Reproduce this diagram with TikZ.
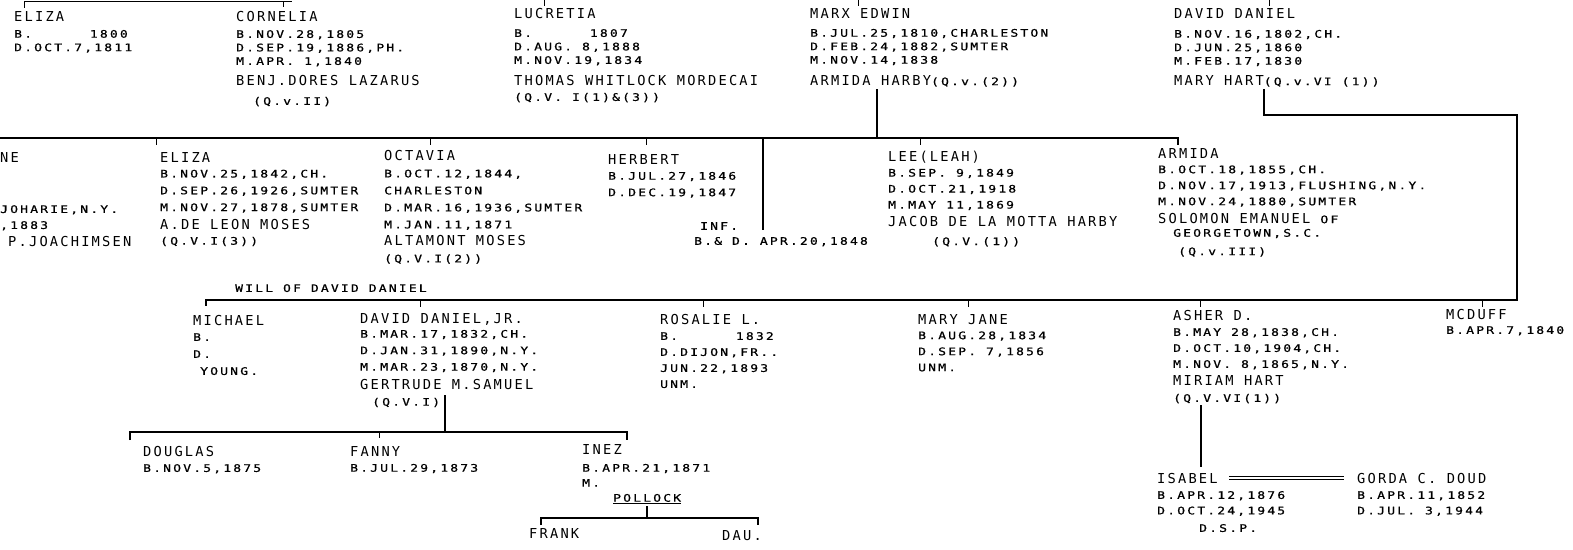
\documentclass[tikz,border=0pt]{standalone}
\usepackage{fontspec}
\newfontfamily\datafont[FakeStretch=1.25,LetterSpace=21,FakeBold=0.8]{DejaVu Sans Mono}
\newfontfamily\namefont[LetterSpace=16]{DejaVu Sans Mono}
\newcommand\dt{\datafont\fontsize{10.4}{14}\selectfont}
\newcommand\nm{\namefont\fontsize{13.7}{14}\selectfont}

\begin{document}
\begin{tikzpicture}[x=1pt,y=-1pt,
    person/.style={anchor=north west,inner sep=0pt,align=left,font={\dt\baselineskip=#1}},
    person/.default=16pt,
    bar/.style={line width=1.6pt},
    tick/.style={line width=1pt}]

    % --- page ---
    \fill[white] (0,0) rectangle (1573,549);
    \useasboundingbox (0,0) rectangle (1573,549);

    % --- 1. first generation (top row) ---
    \node[person=13.5pt] (eliza) at (14,11) {{\nm ELIZA}\\[3pt] B.\hphantom{000000}1800\\ D.OCT.7,1811};
    \node[person=13.5pt] (cornelia) at (236,11) {{\nm CORNELIA}\\[3pt] B.NOV.28,1805\\ D.SEP.19,1886,PH.\\ M.APR. 1,1840\\[7pt] {\nm BENJ.DORES LAZARUS}\\[6pt] \hspace*{17pt}(Q.v.II)};
    \node[person=13.5pt] (lucretia) at (514,8) {{\nm LUCRETIA}\\[5pt] B.\hphantom{000000}1807\\ D.AUG. 8,1888\\ M.NOV.19,1834\\[8pt] {\nm THOMAS WHITLOCK MORDECAI}\\[2pt] (Q.V. I(1)\&(3))};
    \node[person=13.5pt] (marx) at (810,8) {{\nm MARX EDWIN}\\[5pt] B.JUL.25,1810,CHARLESTON\\ D.FEB.24,1882,SUMTER\\ M.NOV.14,1838\\[8pt] {\nm ARMIDA HARBY}(Q.v.(2))};
    \node[person=13.5pt] (david) at (1174,8) {{\nm DAVID DANIEL}\\[6pt] B.NOV.16,1802,CH.\\ D.JUN.25,1860\\ M.FEB.17,1830\\[7pt] {\nm MARY HART}(Q.v.VI (1))};

    % --- 2. children of Marx Edwin ---
    \node[person] (ne) at (0,152) {{\nm NE}};
    \node[person=16pt] (nerest) at (0,205) {JOHARIE,N.Y.\\ ,1883\\[1.5pt] \hspace*{8pt}{\nm P.JOACHIMSEN}};
    \node[person=16.8pt] (elizab) at (160,152) {{\nm ELIZA}\\[-1.5pt] B.NOV.25,1842,CH.\\ D.SEP.26,1926,SUMTER\\ M.NOV.27,1878,SUMTER\\[1.5pt] {\nm A.DE LEON MOSES}\\[-1.5pt] (Q.V.I(3))};
    \node[person=17pt] (octavia) at (384,150) {{\nm OCTAVIA}\\ B.OCT.12,1844,\\ CHARLESTON\\ D.MAR.16,1936,SUMTER\\ M.JAN.11,1871\\ {\nm ALTAMONT MOSES}\\ (Q.V.I(2))};
    \node[person=16.5pt] (herbert) at (608,154) {{\nm HERBERT}\\[-1pt] B.JUL.27,1846\\ D.DEC.19,1847};
    \node[person=15pt] (inf) at (694,222) {\hspace*{6pt}INF.\\ B.\& D. APR.20,1848};
    \node[person=16pt] (lee) at (888,151) {{\nm LEE(LEAH)}\\[-1pt] B.SEP. 9,1849\\ D.OCT.21,1918\\ M.MAY 11,1869\\[2pt] {\nm JACOB DE LA MOTTA HARBY}\\[2.5pt] \hspace*{44pt}(Q.V.(1))};
    \node[person=16pt] (armida) at (1158,148) {{\nm ARMIDA}\\[-1pt] B.OCT.18,1855,CH.\\ D.NOV.17,1913,FLUSHING,N.Y.\\ M.NOV.24,1880,SUMTER\\[2pt] {\nm SOLOMON EMANUEL} OF\\[-2.5pt] \hspace*{15pt}GEORGETOWN,S.C.\\[2.5pt] \hspace*{20pt}(Q.v.III)};

    % --- 3. children of David Daniel ---
    \node[person] (will) at (235,284) {WILL OF DAVID DANIEL};
    \node[person=17pt] (michael) at (193,315) {{\nm MICHAEL}\\[-1.5pt] B.\\ D.\\ \hspace*{7pt}YOUNG.};
    \node[person=16.5pt] (ddjr) at (360,313) {{\nm DAVID DANIEL,JR.}\\[-2pt] B.MAR.17,1832,CH.\\ D.JAN.31,1890,N.Y.\\ M.MAR.23,1870,N.Y.\\[2.5pt] {\nm GERTRUDE M.SAMUEL}\\[-0.5pt] \hspace*{12pt}(Q.V.I)};
    \node[person=16pt] (rosalie) at (660,314) {{\nm ROSALIE L.}\\[-0.5pt] B.\hphantom{000000}1832\\ D.DIJON,FR..\\ JUN.22,1893\\ UNM.};
    \node[person=16pt] (maryjane) at (918,314) {{\nm MARY JANE}\\[-1pt] B.AUG.28,1834\\ D.SEP. 7,1856\\ UNM.};
    \node[person=16pt] (asher) at (1173,310) {{\nm ASHER D.}\\[-0.5pt] B.MAY 28,1838,CH.\\ D.OCT.10,1904,CH.\\ M.NOV. 8,1865,N.Y.\\[1.5pt] {\nm MIRIAM HART}\\[0.5pt] (Q.V.VI(1))};
    \node[person=14.5pt] (mcduff) at (1446,309) {{\nm MCDUFF}\\ B.APR.7,1840};

    % --- 4. grandchildren ---
    \node[person=15.5pt] (douglas) at (143,446) {{\nm DOUGLAS}\\ B.NOV.5,1875};
    \node[person=15.5pt] (fanny) at (350,446) {{\nm FANNY}\\ B.JUL.29,1873};
    \node[person=15pt] (inez) at (582,444) {{\nm INEZ}\\[2.5pt] B.APR.21,1871\\ M.\\ \hspace*{31pt}\underline{POLLOCK}};
    \node[person] (frank) at (529,528) {{\nm FRANK}};
    \node[person] (dau) at (722,530) {{\nm DAU.}};
    \node[person=15.5pt] (isabel) at (1157,473) {{\nm ISABEL}\\ B.APR.12,1876\\ D.OCT.24,1945\\[2pt] \hspace*{42pt}D.S.P.};
    \node[person=15.5pt] (gorda) at (1357,473) {{\nm GORDA C. DOUD}\\ B.APR.11,1852\\ D.JUL. 3,1944};

    % --- connectors ---
    % top bar, cut by the page edge
    \coordinate (gen1L) at (24,1.5);
    \coordinate (gen1R) at (292,1.5);
    \draw[bar] (gen1L) -- (gen1R);
    \draw[tick] (gen1L) -- ++(0,6.5);
    \draw[tick] (283,1.5) -- ++(0,5.5);
    \draw[tick] (544,0) -- ++(0,6);
    \draw[tick] (858,0) -- ++(0,6);
    \draw[tick] (1269,0) -- ++(0,6);

    % Marx Edwin & Armida Harby
    \coordinate (mxh) at (877,89);
    \coordinate (gen2L) at (0,138);
    \coordinate (gen2R) at (1178,138);
    \draw[bar] (mxh) -- (mxh |- gen2L);
    \draw[bar] (gen2L) -- (gen2R) -- ++(0,7);
    \draw[tick] (156,138) -- ++(0,7);
    \draw[tick] (430,138) -- ++(0,7);
    \draw[tick] (646,138) -- ++(0,7);
    \draw[tick] (920,138) -- ++(0,7);
    \draw[bar] (763,138) -- (763,230);

    % David Daniel & Mary Hart
    \coordinate (dmh) at (1264,89);
    \coordinate (dcorner) at (1517,115);
    \coordinate (gen3R) at (1517,300);
    \coordinate (gen3L) at (206,300);
    \draw[bar] (dmh) |- (dcorner) -- (gen3R) -- (gen3L) -- ++(0,6);
    \draw[tick] (420,300) -- ++(0,7);
    \draw[tick] (703,300) -- ++(0,7);
    \draw[tick] (968,300) -- ++(0,7);
    \draw[tick] (1200,300) -- ++(0,7);
    \draw[tick] (1482,300) -- ++(0,7);

    % David Daniel, Jr. & Gertrude M. Samuel
    \coordinate (djh) at (445,395);
    \coordinate (gen4L) at (130,432);
    \coordinate (gen4R) at (627,432);
    \draw[bar] (djh) -- (djh |- gen4L);
    \draw[bar] (gen4L) ++(0,8) -- (gen4L) -- (gen4R) -- ++(0,8);
    \draw[tick] (379,432) -- ++(0,6);

    % Inez & Pollock
    \coordinate (ph) at (647,506);
    \coordinate (gen5L) at (541,518);
    \coordinate (gen5R) at (758,518);
    \draw[bar] (ph) -- (ph |- gen5L);
    \draw[bar] (gen5L) ++(0,7) -- (gen5L) -- (gen5R) -- ++(0,7);

    % Asher D. & Miriam Hart, Isabel = Gorda C. Doud
    \coordinate (ah) at (1201,405);
    \draw[bar] (ah) -- (1201,467);
    \draw[line width=0.8pt,double,double distance=1.6pt] (1229,478) -- (1344,478);

\end{tikzpicture}
\end{document}
